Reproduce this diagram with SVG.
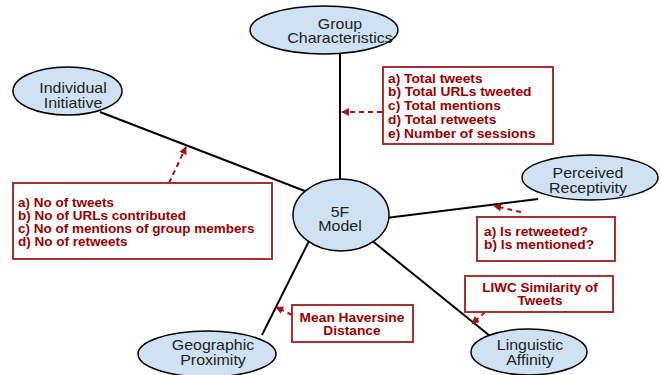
<svg xmlns="http://www.w3.org/2000/svg" width="661" height="375" viewBox="0 0 661 375">
<defs>
<style>
.edge{stroke:#000;stroke-width:2;fill:none}
.dash{stroke:#a31515;stroke-width:2;stroke-dasharray:5 4;fill:none}
.node ellipse{fill:#cfe2f3;stroke:#000;stroke-width:1.5}
.et{font-family:"Liberation Sans",Arial,sans-serif;font-size:14px;fill:#222;text-anchor:middle}
.box rect{fill:#fff;stroke:#a83232;stroke-width:2}
.bt{font-family:"Liberation Sans",Arial,sans-serif;font-size:13px;font-weight:bold;fill:#990000}
.mid{text-anchor:middle}
</style>
<marker id="ah" viewBox="0 0 10 10" refX="9" refY="5" markerWidth="4" markerHeight="4" orient="auto" markerUnits="strokeWidth">
<path d="M0,0 L10,5 L0,10 z" fill="#a31515"/>
</marker>
</defs>
<rect width="661" height="375" fill="#fff"/>
<g id="connectors">
<line class="edge" x1="340" y1="54" x2="340" y2="190"/>
<line class="edge" x1="100" y1="112" x2="310" y2="193"/>
<line class="edge" x1="370" y1="220" x2="538" y2="199"/>
<line class="edge" x1="365" y1="235" x2="490" y2="336"/>
<line class="edge" x1="262" y1="335" x2="312" y2="235"/>
<line class="dash" x1="382" y1="112" x2="342" y2="112" marker-end="url(#ah)"/>
<line class="dash" x1="169" y1="183" x2="186" y2="147" marker-end="url(#ah)"/>
<line class="dash" x1="521" y1="212" x2="494" y2="206" marker-end="url(#ah)"/>
<line class="dash" x1="292" y1="315" x2="276" y2="307" marker-end="url(#ah)"/>
<line class="dash" x1="485" y1="312" x2="472" y2="324" marker-end="url(#ah)"/>
</g>
<g id="group-characteristics" class="node">
<ellipse cx="324" cy="30" rx="74" ry="24"/>
<text class="et" transform="translate(340,28.5) scale(1.14,1)"><tspan x="0">Group</tspan><tspan x="0" dy="15">Characteristics</tspan></text>
</g>
<g id="individual-initiative" class="node">
<ellipse cx="67.5" cy="91" rx="54.5" ry="24"/>
<text class="et" transform="translate(73,93) scale(1.14,1)"><tspan x="0">Individual</tspan><tspan x="0" dy="15">Initiative</tspan></text>
</g>
<g id="model-5f" class="node">
<ellipse cx="341" cy="215" rx="48" ry="36"/>
<text class="et" transform="translate(340,216.5) scale(1.14,1)"><tspan x="0">5F</tspan><tspan x="0" dy="14.5">Model</tspan></text>
</g>
<g id="perceived-receptivity" class="node">
<ellipse cx="590" cy="177.5" rx="68" ry="22.5"/>
<text class="et" transform="translate(588,178) scale(1.14,1)"><tspan x="0">Perceived</tspan><tspan x="0" dy="15">Receptivity</tspan></text>
</g>
<g id="geographic-proximity" class="node">
<ellipse cx="207" cy="354" rx="69" ry="23"/>
<text class="et" transform="translate(213,350) scale(1.14,1)"><tspan x="0">Geographic</tspan><tspan x="0" dy="15">Proximity</tspan></text>
</g>
<g id="linguistic-affinity" class="node">
<ellipse cx="529" cy="352" rx="58" ry="23"/>
<text class="et" transform="translate(530,350) scale(1.14,1)"><tspan x="0">Linguistic</tspan><tspan x="0" dy="15">Affinity</tspan></text>
</g>
<g id="box-group" class="box">
<rect x="383" y="67" width="170" height="77"/>
<text class="bt" transform="translate(388,82.5) scale(1.06,1)"><tspan x="0">a) Total tweets</tspan><tspan x="0" dy="14">b) Total URLs tweeted</tspan><tspan x="0" dy="14">c) Total mentions</tspan><tspan x="0" dy="14">d) Total retweets</tspan><tspan x="0" dy="14">e) Number of sessions</tspan></text>
</g>
<g id="box-individual" class="box">
<rect x="13" y="183" width="259" height="76"/>
<text class="bt" transform="translate(18,206.5) scale(1.04,1)"><tspan x="0">a) No of tweets</tspan><tspan x="0" dy="13.3">b) No of URLs contributed</tspan><tspan x="0" dy="13.3">c) No of mentions of group members</tspan><tspan x="0" dy="13.3">d) No of retweets</tspan></text>
</g>
<g id="box-perceived" class="box">
<rect x="477" y="217" width="138" height="44"/>
<text class="bt" transform="translate(484,235.5) scale(1.06,1)"><tspan x="0">a) Is retweeted?</tspan><tspan x="0" dy="13.3">b) Is mentioned?</tspan></text>
</g>
<g id="box-geographic" class="box">
<rect x="292" y="305" width="121" height="37"/>
<text class="bt mid" transform="translate(352,321.5) scale(1.06,1)"><tspan x="0">Mean Haversine</tspan><tspan x="0" dy="14">Distance</tspan></text>
</g>
<g id="box-linguistic" class="box">
<rect x="465" y="276" width="148" height="36"/>
<text class="bt mid" transform="translate(540,291.5) scale(1.04,1)"><tspan x="0">LIWC Similarity of</tspan><tspan x="0" dy="14">Tweets</tspan></text>
</g>
</svg>
